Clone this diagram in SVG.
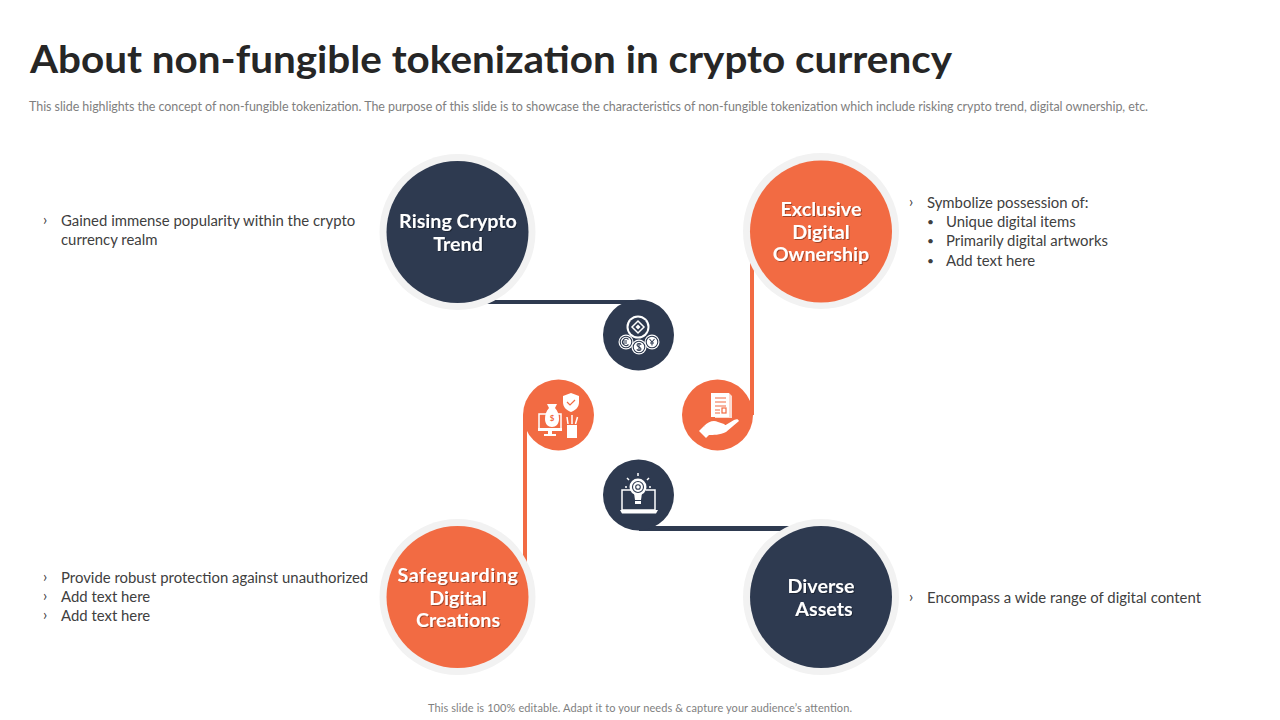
<svg xmlns="http://www.w3.org/2000/svg" width="1280" height="720" viewBox="0 0 1280 720">
<defs><filter id="ts" x="-10%" y="-20%" width="120%" height="140%"><feDropShadow dx="1" dy="1" stdDeviation="0.6" flood-color="#000" flood-opacity="0.35"/></filter></defs>
<style>
text{font-family:"Lato","Noto Sans",sans-serif}
.title{font-size:38px;font-weight:700;fill:#262626}
.sub{font-size:12.5px;fill:#7f7f7f}
.body{font-size:14.9px;fill:#404040}
.dot{font-size:12px;fill:#404040}
.head{font-size:19.7px;font-weight:700;fill:#fff;text-anchor:middle;filter:url(#ts)}
.ring{fill:#f2f2f2}
.navy{fill:#2e3a50}
.orange{fill:#f26b43}
.w{fill:#fff}
.wl{fill:none;stroke:#fff;stroke-width:1.5}
.nl{fill:none;stroke:#2e3a50;stroke-width:1.1}
.ol{fill:none;stroke:#f26b43;stroke-width:1.2}
.sym{font-size:8px;font-weight:700;text-anchor:middle}
</style>
<rect width="1280" height="720" fill="#fff"/>
<text class="title" x="30" y="73" textLength="922" lengthAdjust="spacingAndGlyphs">About non-fungible tokenization in crypto currency</text>
<text class="sub" x="29" y="111" textLength="1119" lengthAdjust="spacing">This slide highlights the concept of non-fungible tokenization. The purpose of this slide is to showcase the characteristics of non-fungible tokenization which include risking crypto trend, digital ownership, etc.</text>
<g id="connectors">
<path class="navy" d="M480 300H639V304H480Z"/>
<path class="orange" d="M750 258H754V415H750Z"/>
<path class="orange" d="M523 415H527V570H523Z"/>
<path class="navy" d="M639 526H800V531H639Z"/>
</g>
<g id="node-rising">
<circle class="ring" cx="457.500" cy="232" r="78"/><circle class="navy" cx="457.500" cy="232" r="71"/>
<text class="head"><tspan x="458" y="228">Rising Crypto</tspan><tspan x="458" y="251">Trend</tspan></text>
</g>
<g id="node-exclusive">
<circle class="ring" cx="821" cy="231" r="78"/><circle class="orange" cx="821" cy="231.500" r="71"/>
<text class="head"><tspan x="821" y="216">Exclusive</tspan><tspan x="821" y="239">Digital</tspan><tspan x="821" y="261">Ownership</tspan></text>
</g>
<g id="node-safeguarding">
<circle class="ring" cx="457.500" cy="597" r="78"/><circle class="orange" cx="457.500" cy="597" r="71"/>
<text class="head"><tspan x="458" y="582" letter-spacing="0.6">Safeguarding</tspan><tspan x="458" y="605">Digital</tspan><tspan x="458" y="627">Creations</tspan></text>
</g>
<g id="node-diverse">
<circle class="ring" cx="821" cy="597" r="78"/><circle class="navy" cx="821" cy="597" r="71"/>
<text class="head"><tspan x="821" y="593">Diverse</tspan><tspan x="824" y="616">Assets</tspan></text>
</g>
<g id="icon-coins">
<circle class="navy" cx="638.500" cy="335" r="35.500"/>
<circle class="w" cx="638" cy="327" r="11.500"/><circle class="navy" cx="638" cy="327" r="9.500"/>
<path class="wl" stroke-width="1.300" d="M638 321l6 6-6 6-6-6z"/><path class="w" d="M638 324.500l2.500 2.500-2.500 2.500-2.500-2.500z"/>
<circle class="w" cx="626" cy="342" r="7.500"/><circle class="w" cx="652" cy="342" r="7.500"/><circle class="w" cx="639" cy="347" r="7.500"/>
<circle class="nl" cx="626" cy="342" r="5.800"/><circle class="nl" cx="652" cy="342" r="5.800"/><circle class="nl" cx="639" cy="347" r="5.800"/>
<path class="nl" d="M628.500 339.500a3.500 3.500 0 1 0 0 5M623 341h4M623 343h4M649.500 339l2.500 3 2.500-3M652 342v3.500M650 343h4M641 345a2 1.500 0 0 0-4 0c0 2 4 2 4 4a2 1.500 0 0 1-4 0M639 343v8"/>
</g>
<g id="icon-safeguard">
<circle class="orange" cx="558.500" cy="415" r="35.500"/>
<path class="wl" stroke-width="2" d="M539 414h22v15h-22z"/><path class="w" d="M538 428h24v3h-24zM548 431h4v3h4v2h-12v-2h4z"/>
<path class="w" d="M549 408l-2-4h10l-2 4c3 3 4 7 4 11 0 5-3 8-7 8s-7-3-7-8c0-4 1-8 4-11z"/>
<text class="sym" x="552" y="421" fill="#f26b43">$</text>
<path class="w" d="M571 393l8 3v6c0 5-3 8-8 10-5-2-8-5-8-10v-6z"/>
<path class="ol" stroke-width="2" d="M567 402l3 3 5-5"/>
<path class="w" d="M567 425h10v13h-10z"/><path class="wl" d="M568 424l-1-7M572 424v-9M575.500 424l2-7"/>
</g>
<g id="icon-ownership">
<circle class="orange" cx="717.500" cy="415" r="35.500"/>
<path class="w" d="M715 393h14l3 3v22h-17z" opacity=".75"/><path class="w" d="M711 393h18v24h-18z"/>
<path class="ol" d="M715 398h11M715 402h11M715 406h11M715 410h5M715 413h5"/><rect class="ol" x="722" y="408" width="4" height="5"/>
<path class="w" d="M704 426c5-5 10-6 14-4l6 2c2 1 2 3 0 4l-5 1 15-9c3-1 4-1 5 1l-13 11c-6 3-13 3-17 3z"/>
<path class="w" d="M699 431l5-5 7 7-5 5z"/>
</g>
<g id="icon-bulb">
<circle class="navy" cx="638.500" cy="495" r="35.500"/>
<path class="wl" d="M622 510v-20h9M646 490h9v20M622 510h33"/><path class="w" d="M620 510h38l-2 3.500h-34z"/>
<circle class="w" cx="638" cy="487" r="8.500"/><path class="w" d="M634 493h8l-1 7h-6z"/><path class="w" d="M635 501h6v3h-6z"/>
<circle class="nl" cx="638" cy="487" r="5.500"/><circle class="nl" cx="638" cy="487" r="2.300"/>
<path class="wl" stroke-width="1" d="M638 476v-3M629 480l-2-2M647 480l2-2M627 487h-2M649 487h2"/>
</g>
<g id="text-rising">
<text class="body" x="43" y="225">›</text>
<text class="body"><tspan x="61" y="226">Gained immense popularity within the crypto</tspan><tspan x="61" y="245">currency realm</tspan></text>
</g>
<g id="text-exclusive">
<text class="body" x="909" y="207">›</text>
<text class="body" x="927" y="208">Symbolize possession of:</text>
<text class="dot" x="927" y="226">•</text><text class="body" x="946" y="227">Unique digital items</text>
<text class="dot" x="927" y="245">•</text><text class="body" x="946" y="246">Primarily digital artworks</text>
<text class="dot" x="927" y="265">•</text><text class="body" x="946" y="266">Add text here</text>
</g>
<g id="text-safeguarding">
<text class="body" x="43" y="582">›</text><text class="body" x="61" y="583">Provide robust protection against unauthorized</text>
<text class="body" x="43" y="601">›</text><text class="body" x="61" y="602">Add text here</text>
<text class="body" x="43" y="620">›</text><text class="body" x="61" y="621">Add text here</text>
</g>
<g id="text-diverse">
<text class="body" x="909" y="602">›</text><text class="body" x="927" y="603">Encompass a wide range of digital content</text>
</g>
<text x="428" y="712" font-size="11" fill="#7f7f7f" textLength="424" lengthAdjust="spacing">This slide is 100% editable. Adapt it to your needs &amp; capture your audience’s attention.</text>
</svg>
